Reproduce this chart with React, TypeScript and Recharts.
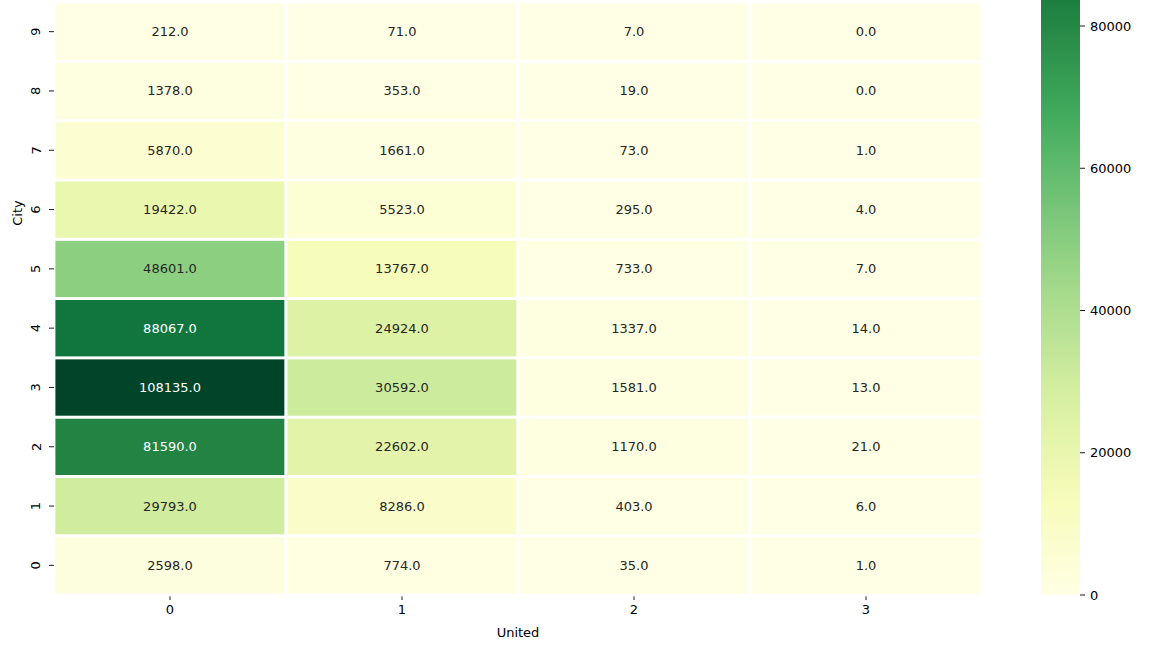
import React from "react";
import { ScatterChart, Scatter, XAxis, YAxis, BarChart, Bar } from "recharts";

// rows = City 0..9, one array per United column
const cities = [0, 1, 2, 3, 4, 5, 6, 7, 8, 9];
const unitedCats = [0, 1, 2, 3];
const united0 = [2598, 29793, 81590, 108135, 88067, 48601, 19422, 5870, 1378, 212];
const united1 = [774, 8286, 22602, 30592, 24924, 13767, 5523, 1661, 353, 71];
const united2 = [35, 403, 1170, 1581, 1337, 733, 295, 73, 19, 7];
const united3 = [1, 6, 21, 13, 14, 7, 4, 1, 0, 0];
const colorbarTicks = [0, 20000, 40000, 60000, 80000];
// colorbar is cut off at the top of the picture, this is the value at the edge
const colorbarVisibleMax = 83656;

const columns = [united0, united1, united2, united3];
const vmax = Math.max(...columns.flat());

const cells = columns.flatMap((col, ci) =>
  col.map((v, ri) => ({ x: unitedCats[ci], y: cities[ri], v }))
);

const YLGN = ["#ffffe5", "#f7fcb9", "#d9f0a3", "#addd8e", "#78c679", "#41ab5d", "#238443", "#006837", "#004529"];

const hexToRgb = (h: string) => [1, 3, 5].map((i) => parseInt(h.slice(i, i + 2), 16));

const ylgnRgb = (t: number) => {
  const tt = Math.max(0, Math.min(1, t));
  const p = tt * (YLGN.length - 1);
  const i = Math.min(Math.floor(p), YLGN.length - 2);
  const f = p - i;
  const a = hexToRgb(YLGN[i]);
  const b = hexToRgb(YLGN[i + 1]);
  return a.map((c, k) => Math.round(c + (b[k] - c) * f));
};
const rgbStr = (c: number[]) => `rgb(${c[0]},${c[1]},${c[2]})`;

const luminance = (c: number[]) => {
  const lin = c.map((v) => {
    const s = v / 255;
    return s <= 0.03928 ? s / 12.92 : Math.pow((s + 0.055) / 1.055, 2.4);
  });
  return 0.2126 * lin[0] + 0.7152 * lin[1] + 0.0722 * lin[2];
};

const W = 1010;
const H = 648;
const M = { top: 2, right: 28, left: 30, bottom: 3 };
const Y_W = 24;
const X_H = 50;
const CELL_W = (W - M.left - M.right - Y_W) / unitedCats.length;
const CELL_H = (H - M.top - M.bottom - X_H) / cities.length;

const FONT = "DejaVu Sans, sans-serif";

const Cell = (props: any) => {
  const { cx, cy, payload } = props;
  const rgb = ylgnRgb(payload.v / vmax);
  const textColor = luminance(rgb) > 0.408 ? "#262626" : "#ffffff";
  return (
    <g>
      <rect
        x={cx - CELL_W / 2}
        y={cy - CELL_H / 2}
        width={CELL_W}
        height={CELL_H}
        fill={rgbStr(rgb)}
        stroke="#ffffff"
        strokeWidth={2.8}
      />
      <text
        x={cx}
        y={cy}
        textAnchor="middle"
        dominantBaseline="central"
        fontSize={13}
        fill={textColor}
        fontFamily={FONT}
      >
        {payload.v.toFixed(1)}
      </text>
    </g>
  );
};

const CityTick = (props: any) => {
  const { y, payload } = props;
  const x = 36;
  return (
    <g>
      <line x1={M.left + Y_W - 5} x2={M.left + Y_W} y1={y} y2={y} stroke="#000" strokeWidth={0.9} />
      <text
        x={x}
        y={y}
        transform={`rotate(-90 ${x} ${y})`}
        textAnchor="middle"
        dominantBaseline="central"
        fontSize={13}
        fill="#000"
        fontFamily={FONT}
      >
        {payload.value}
      </text>
    </g>
  );
};

const topFrac = colorbarVisibleMax / vmax;
const gradStops = Array.from({ length: 21 }, (_, i) => i / 20);

export default function App() {
  return (
    <div style={{ position: "absolute", left: 0, top: 0, width: 1152, height: 648, background: "#fff", fontFamily: FONT }}>
      <div style={{ position: "absolute", left: 0, top: 0 }}>
        <ScatterChart width={W} height={H} margin={M}>
          <XAxis
            type="number"
            dataKey="x"
            domain={[-0.5, 3.5]}
            ticks={unitedCats}
            interval={0}
            height={X_H}
            axisLine={false}
            tickSize={5}
            tickMargin={5}
            tickLine={{ stroke: "#000", strokeWidth: 0.9 }}
            tick={{ fill: "#000", fontSize: 13, fontFamily: FONT }}
            label={{ value: "United", position: "insideBottom", offset: 8, fill: "#000", fontSize: 13, fontFamily: FONT }}
          />
          <YAxis
            type="number"
            dataKey="y"
            domain={[-0.5, 9.5]}
            ticks={cities}
            interval={0}
            width={Y_W}
            axisLine={false}
            tickLine={false}
            tick={<CityTick />}
            label={{
              content: () => (
                <text
                  x={17}
                  y={213}
                  transform="rotate(-90 17 213)"
                  textAnchor="middle"
                  dominantBaseline="central"
                  fontSize={13}
                  fill="#000"
                  fontFamily={FONT}
                >
                  City
                </text>
              ),
            }}
          />
          <Scatter data={cells} shape={<Cell />} isAnimationActive={false} />
        </ScatterChart>
      </div>
      <div style={{ position: "absolute", left: 1000, top: 0 }}>
        <BarChart
          width={152}
          height={648}
          data={[{ name: "cbar", v: colorbarVisibleMax }]}
          margin={{ top: 0, right: 12, left: 41, bottom: 53 }}
          barCategoryGap={0}
        >
          <defs>
            <linearGradient id="ylgnGrad" x1="0" y1="1" x2="0" y2="0">
              {gradStops.map((s) => (
                <stop key={s} offset={s} stopColor={rgbStr(ylgnRgb(s * topFrac))} />
              ))}
            </linearGradient>
          </defs>
          <XAxis dataKey="name" hide />
          <YAxis
            orientation="right"
            type="number"
            domain={[0, colorbarVisibleMax]}
            ticks={colorbarTicks}
            interval={0}
            width={60}
            axisLine={false}
            tickSize={5}
            tickMargin={5}
            tickLine={{ stroke: "#000", strokeWidth: 0.9 }}
            tick={{ fill: "#000", fontSize: 13, fontFamily: FONT, textAnchor: "start" }}
          />
          <Bar dataKey="v" fill="url(#ylgnGrad)" isAnimationActive={false} />
        </BarChart>
      </div>
    </div>
  );
}
